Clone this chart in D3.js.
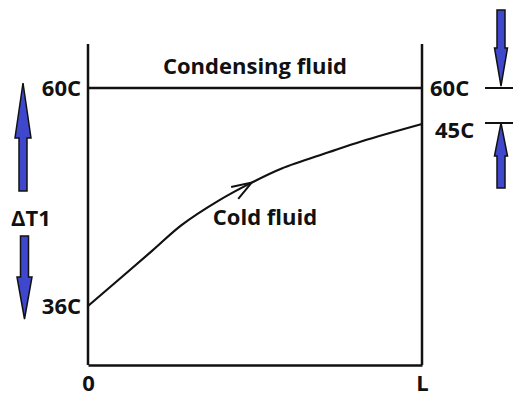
<!DOCTYPE html>
<html>
<head>
<meta charset="utf-8">
<script src="https://cdn.jsdelivr.net/npm/d3@7"></script>
<style>
  body { margin: 0; background: #fff; }
  text { font-family: "Open Sans", sans-serif; font-weight: bold; fill: #111; }
</style>
</head>
<body>
<div id="chart"></div>
<script>
// position along the exchanger (0..L) and cold fluid temperature
var positions = [0, 0.19, 0.28, 0.39, 0.49, 0.58, 0.72, 0.82, 1];
var coldTemps = [36, 38.7, 40.0, 41.2, 42.1, 42.8, 43.6, 44.15, 45];
var condensingTemp = 60;
var xTickValues = [0, 1];
var xTickLabels = ["0", "L"];
var leftLabels = [60, 36];
var rightLabels = [60, 45];

var width = 513, height = 396;
var margin = {top: 44, right: 91, bottom: 31, left: 88};
var fontSize = 22;

var svg = d3.select("#chart")
    .append("svg")
    .attr("width", width)
    .attr("height", height);

// x from 0 to L
var x = d3.scaleLinear()
    .domain([0, 1])
    .range([margin.left, width - margin.right]);

// schematic, not to scale: piecewise temperature scale
var y = d3.scaleLinear()
    .domain([36, 45, 60])
    .range([306, 124, 88]);

var bottom = height - margin.bottom;

// frame: left and right walls, bottom axis
svg.append("line")
    .attr("x1", x(0)).attr("x2", x(0))
    .attr("y1", margin.top).attr("y2", bottom)
    .attr("stroke", "#111").attr("stroke-width", 2.5);
svg.append("line")
    .attr("x1", x(1)).attr("x2", x(1))
    .attr("y1", margin.top).attr("y2", bottom)
    .attr("stroke", "#111").attr("stroke-width", 2.5);

var xAxis = svg.append("g")
    .attr("transform", "translate(0," + bottom + ")")
    .call(d3.axisBottom(x)
        .tickValues(xTickValues)
        .tickFormat(function(d, i) { return xTickLabels[i]; })
        .tickSize(0)
        .tickSizeOuter(0)
        .tickPadding(10));
xAxis.select(".domain").attr("stroke", "#111").attr("stroke-width", 2.5);
xAxis.selectAll("text")
    .attr("font-family", "Open Sans, sans-serif")
    .attr("font-weight", "bold")
    .attr("font-size", fontSize)
    .attr("fill", "#111");

// condensing fluid line
svg.append("line")
    .attr("x1", x(0)).attr("x2", x(1))
    .attr("y1", y(condensingTemp)).attr("y2", y(condensingTemp))
    .attr("stroke", "#111").attr("stroke-width", 2.5);

// cold fluid curve
var data = positions.map(function(p, i) { return {p: p, t: coldTemps[i]}; });
svg.append("path")
    .datum(data)
    .attr("fill", "none")
    .attr("stroke", "#111")
    .attr("stroke-width", 2.2)
    .attr("d", d3.line()
        .x(function(d) { return x(d.p) })
        .y(function(d) { return y(d.t) })
        .curve(d3.curveCatmullRom.alpha(0.5)));

// open arrow head on the curve
var tip = data[4], from = data[2];
var tx = x(tip.p), ty = y(tip.t);
var ang = Math.atan2(y(from.t) - ty, x(from.p) - tx);
var spread = 19 * Math.PI / 180, arm = 21;
svg.append("path")
    .attr("fill", "none")
    .attr("stroke", "#111")
    .attr("stroke-width", 2)
    .attr("d", "M" + (tx + arm * Math.cos(ang + spread)) + "," + (ty + arm * Math.sin(ang + spread)) +
        "L" + tx + "," + ty +
        "L" + (tx + arm * Math.cos(ang - spread)) + "," + (ty + arm * Math.sin(ang - spread)));

// labels
function label(txt, lx, ly, anchor) {
    svg.append("text")
        .attr("x", lx).attr("y", ly)
        .attr("dy", "0.36em")
        .attr("text-anchor", anchor)
        .attr("font-size", fontSize)
        .text(txt);
}
label("Condensing fluid", (x(0) + x(1)) / 2, 66, "middle");
label("Cold fluid", 265, 217, "middle");
leftLabels.forEach(function(t) { label(t + "C", 81, y(t), "end"); });
label(rightLabels[0] + "C", 430, y(rightLabels[0]), "start");
label(rightLabels[1] + "C", 435, y(rightLabels[1]) + 6, "start");
label("\u0394T1", 31, 218, "middle");

// block arrows
function blockArrow(cx, tail, tipY, shaftW, headW, headL) {
    var dir = tipY < tail ? -1 : 1;
    var base = tipY - dir * headL;
    var pts = [
        [cx - shaftW / 2, tail], [cx - shaftW / 2, base], [cx - headW / 2, base],
        [cx, tipY],
        [cx + headW / 2, base], [cx + shaftW / 2, base], [cx + shaftW / 2, tail]
    ];
    svg.append("path")
        .attr("d", d3.line()(pts) + "Z")
        .attr("fill", "#3f48cc")
        .attr("stroke", "#111")
        .attr("stroke-width", 1.5)
        .attr("stroke-linejoin", "miter");
}
blockArrow(23, 191, 83, 8, 16, 55);
blockArrow(24.5, 236, 319, 8, 15, 42);
blockArrow(501, 10, y(60) - 2, 8, 13, 38);
blockArrow(501, 188, y(45) - 1, 8, 13, 33);

// right side tick marks
[y(60), y(45) - 1].forEach(function(ty) {
    svg.append("line")
        .attr("x1", 485).attr("x2", 513)
        .attr("y1", ty).attr("y2", ty)
        .attr("stroke", "#111").attr("stroke-width", 2);
});
</script>
</body>
</html>
